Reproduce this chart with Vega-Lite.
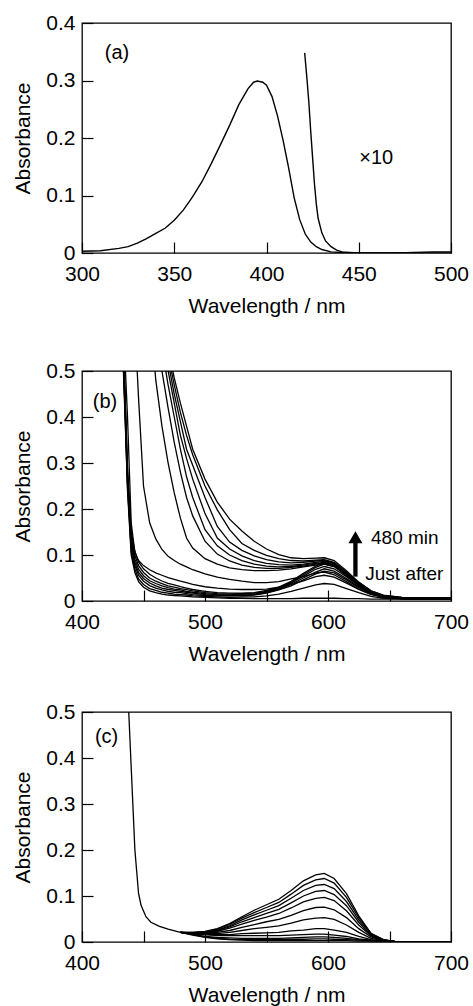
{
"$schema":"https://vega.github.io/schema/vega-lite/v6.json",
"background":"white",
"padding":{"left":12,"top":11,"right":2,"bottom":2},
"config":{
 "font":"Liberation Sans",
 "view":{"stroke":"black","strokeWidth":1.3},
 "axis":{"domain":false,"grid":false,"ticks":true,"tickSize":-11,"tickWidth":1.2,"tickColor":"black","labelFont":"Liberation Sans","labelFontSize":21,"labelColor":"black","labelPadding":18,"labelFlush":false,"labelOverlap":false,"titleFont":"Liberation Sans","titleFontSize":21,"titleFontWeight":"normal","titleColor":"black"},
 "axisY":{"titlePadding":12},
 "axisX":{"labelPadding":21.5,"titlePadding":10.6}
},
"datasets":{
"a":[
{"s":"m","w":300,"A":0.003},{"s":"m","w":310,"A":0.004},{"s":"m","w":320,"A":0.008},{"s":"m","w":325,"A":0.011},{"s":"m","w":330,"A":0.017},{"s":"m","w":335,"A":0.025},{"s":"m","w":340,"A":0.034},{"s":"m","w":345,"A":0.043},{"s":"m","w":350,"A":0.057},{"s":"m","w":355,"A":0.075},{"s":"m","w":360,"A":0.098},{"s":"m","w":365,"A":0.124},{"s":"m","w":370,"A":0.155},{"s":"m","w":375,"A":0.188},{"s":"m","w":380,"A":0.222},{"s":"m","w":385,"A":0.258},{"s":"m","w":390,"A":0.286},{"s":"m","w":393,"A":0.297},{"s":"m","w":395,"A":0.299},{"s":"m","w":398,"A":0.297},{"s":"m","w":400,"A":0.292},{"s":"m","w":403,"A":0.272},{"s":"m","w":406,"A":0.238},{"s":"m","w":409,"A":0.196},{"s":"m","w":412,"A":0.148},{"s":"m","w":415,"A":0.096},{"s":"m","w":418,"A":0.058},{"s":"m","w":421,"A":0.033},{"s":"m","w":424,"A":0.019},{"s":"m","w":427,"A":0.011},{"s":"m","w":430,"A":0.006},{"s":"m","w":435,"A":0.002},{"s":"m","w":440,"A":0.001},{"s":"m","w":445,"A":0},{"s":"m","w":450,"A":0},{"s":"m","w":500,"A":0},
{"s":"x","w":420.7,"A":0.348},{"s":"x","w":422,"A":0.3},{"s":"x","w":423,"A":0.26},{"s":"x","w":424,"A":0.21},{"s":"x","w":425,"A":0.165},{"s":"x","w":426,"A":0.12},{"s":"x","w":427,"A":0.085},{"s":"x","w":428,"A":0.06},{"s":"x","w":430,"A":0.035},{"s":"x","w":432,"A":0.021},{"s":"x","w":435,"A":0.011},{"s":"x","w":438,"A":0.005},{"s":"x","w":441,"A":0.002},{"s":"x","w":445,"A":0.001},{"s":"x","w":450,"A":0},{"s":"x","w":470,"A":0},{"s":"x","w":480,"A":0.001},{"s":"x","w":490,"A":0.002},{"s":"x","w":500,"A":0.002}
],
"la":[{"w":319,"A":0.347,"t":"(a)"},{"w":459.5,"A":0.166,"t":"×10"}],
"b":[
{"s":"J","w":430,"A":0.7},{"s":"J","w":433,"A":0.55},{"s":"J","w":435,"A":0.4},{"s":"J","w":437,"A":0.24},{"s":"J","w":440,"A":0.1},{"s":"J","w":443,"A":0.062},{"s":"J","w":446,"A":0.042},{"s":"J","w":450,"A":0.03},{"s":"J","w":455,"A":0.022},{"s":"J","w":460,"A":0.018},{"s":"J","w":465,"A":0.015},{"s":"J","w":470,"A":0.013},{"s":"J","w":475,"A":0.012},{"s":"J","w":480,"A":0.011},{"s":"J","w":485,"A":0.01},{"s":"J","w":490,"A":0.009},{"s":"J","w":500,"A":0.008},{"s":"J","w":510,"A":0.007},{"s":"J","w":520,"A":0.006},{"s":"J","w":530,"A":0.006},{"s":"J","w":540,"A":0.005},{"s":"J","w":550,"A":0.005},{"s":"J","w":560,"A":0.005},{"s":"J","w":570,"A":0.005},{"s":"J","w":580,"A":0.006},{"s":"J","w":590,"A":0.006},{"s":"J","w":597,"A":0.006},{"s":"J","w":605,"A":0.006},{"s":"J","w":615,"A":0.005},{"s":"J","w":625,"A":0.005},{"s":"J","w":635,"A":0.004},{"s":"J","w":645,"A":0.004},{"s":"J","w":660,"A":0.004},{"s":"J","w":680,"A":0.004},{"s":"J","w":700,"A":0.004},
{"s":"C1","w":430,"A":0.709},{"s":"C1","w":433,"A":0.559},{"s":"C1","w":435,"A":0.408},{"s":"C1","w":437,"A":0.248},{"s":"C1","w":440,"A":0.107},{"s":"C1","w":443,"A":0.069},{"s":"C1","w":446,"A":0.048},{"s":"C1","w":450,"A":0.036},{"s":"C1","w":455,"A":0.027},{"s":"C1","w":460,"A":0.023},{"s":"C1","w":465,"A":0.019},{"s":"C1","w":470,"A":0.017},{"s":"C1","w":475,"A":0.015},{"s":"C1","w":480,"A":0.014},{"s":"C1","w":485,"A":0.013},{"s":"C1","w":490,"A":0.011},{"s":"C1","w":500,"A":0.01},{"s":"C1","w":510,"A":0.009},{"s":"C1","w":520,"A":0.008},{"s":"C1","w":530,"A":0.009},{"s":"C1","w":540,"A":0.009},{"s":"C1","w":550,"A":0.011},{"s":"C1","w":560,"A":0.015},{"s":"C1","w":570,"A":0.021},{"s":"C1","w":580,"A":0.028},{"s":"C1","w":590,"A":0.035},{"s":"C1","w":597,"A":0.038},{"s":"C1","w":605,"A":0.036},{"s":"C1","w":615,"A":0.027},{"s":"C1","w":625,"A":0.018},{"s":"C1","w":635,"A":0.01},{"s":"C1","w":645,"A":0.006},{"s":"C1","w":660,"A":0.0045},{"s":"C1","w":680,"A":0.004},{"s":"C1","w":700,"A":0.004},
{"s":"F1","w":430,"A":0.72},{"s":"F1","w":433,"A":0.569},{"s":"F1","w":435,"A":0.418},{"s":"F1","w":437,"A":0.257},{"s":"F1","w":440,"A":0.116},{"s":"F1","w":443,"A":0.077},{"s":"F1","w":446,"A":0.056},{"s":"F1","w":450,"A":0.043},{"s":"F1","w":455,"A":0.0335},{"s":"F1","w":460,"A":0.028},{"s":"F1","w":465,"A":0.024},{"s":"F1","w":470,"A":0.021},{"s":"F1","w":475,"A":0.019},{"s":"F1","w":480,"A":0.018},{"s":"F1","w":485,"A":0.016},{"s":"F1","w":490,"A":0.014},{"s":"F1","w":500,"A":0.012},{"s":"F1","w":510,"A":0.011},{"s":"F1","w":520,"A":0.011},{"s":"F1","w":530,"A":0.012},{"s":"F1","w":540,"A":0.013},{"s":"F1","w":550,"A":0.017},{"s":"F1","w":560,"A":0.024},{"s":"F1","w":570,"A":0.033},{"s":"F1","w":580,"A":0.046},{"s":"F1","w":590,"A":0.059},{"s":"F1","w":597,"A":0.065},{"s":"F1","w":605,"A":0.061},{"s":"F1","w":615,"A":0.046},{"s":"F1","w":625,"A":0.029},{"s":"F1","w":635,"A":0.016},{"s":"F1","w":645,"A":0.008},{"s":"F1","w":660,"A":0.005},{"s":"F1","w":680,"A":0.004},{"s":"F1","w":700,"A":0.004},
{"s":"F2","w":430,"A":0.729},{"s":"F2","w":433,"A":0.577},{"s":"F2","w":435,"A":0.426},{"s":"F2","w":437,"A":0.265},{"s":"F2","w":440,"A":0.123},{"s":"F2","w":443,"A":0.084},{"s":"F2","w":446,"A":0.062},{"s":"F2","w":450,"A":0.049},{"s":"F2","w":455,"A":0.039},{"s":"F2","w":460,"A":0.033},{"s":"F2","w":465,"A":0.028},{"s":"F2","w":470,"A":0.025},{"s":"F2","w":475,"A":0.023},{"s":"F2","w":480,"A":0.021},{"s":"F2","w":485,"A":0.019},{"s":"F2","w":490,"A":0.017},{"s":"F2","w":500,"A":0.014},{"s":"F2","w":510,"A":0.013},{"s":"F2","w":520,"A":0.012},{"s":"F2","w":530,"A":0.013},{"s":"F2","w":540,"A":0.014},{"s":"F2","w":550,"A":0.018},{"s":"F2","w":560,"A":0.025},{"s":"F2","w":570,"A":0.036},{"s":"F2","w":580,"A":0.05},{"s":"F2","w":590,"A":0.063},{"s":"F2","w":597,"A":0.07},{"s":"F2","w":605,"A":0.065},{"s":"F2","w":615,"A":0.049},{"s":"F2","w":625,"A":0.031},{"s":"F2","w":635,"A":0.016},{"s":"F2","w":645,"A":0.009},{"s":"F2","w":660,"A":0.005},{"s":"F2","w":680,"A":0.004},{"s":"F2","w":700,"A":0.004},
{"s":"F3","w":430,"A":0.738},{"s":"F3","w":433,"A":0.586},{"s":"F3","w":435,"A":0.434},{"s":"F3","w":437,"A":0.273},{"s":"F3","w":440,"A":0.131},{"s":"F3","w":443,"A":0.091},{"s":"F3","w":446,"A":0.069},{"s":"F3","w":450,"A":0.055},{"s":"F3","w":455,"A":0.044},{"s":"F3","w":460,"A":0.038},{"s":"F3","w":465,"A":0.033},{"s":"F3","w":470,"A":0.029},{"s":"F3","w":475,"A":0.026},{"s":"F3","w":480,"A":0.024},{"s":"F3","w":485,"A":0.021},{"s":"F3","w":490,"A":0.019},{"s":"F3","w":500,"A":0.016},{"s":"F3","w":510,"A":0.014},{"s":"F3","w":520,"A":0.013},{"s":"F3","w":530,"A":0.015},{"s":"F3","w":540,"A":0.015},{"s":"F3","w":550,"A":0.02},{"s":"F3","w":560,"A":0.027},{"s":"F3","w":570,"A":0.039},{"s":"F3","w":580,"A":0.054},{"s":"F3","w":590,"A":0.069},{"s":"F3","w":597,"A":0.075},{"s":"F3","w":605,"A":0.07},{"s":"F3","w":615,"A":0.053},{"s":"F3","w":625,"A":0.033},{"s":"F3","w":635,"A":0.017},{"s":"F3","w":645,"A":0.009},{"s":"F3","w":660,"A":0.005},{"s":"F3","w":680,"A":0.004},{"s":"F3","w":700,"A":0.004},
{"s":"F4","w":430,"A":0.749},{"s":"F4","w":433,"A":0.596},{"s":"F4","w":435,"A":0.444},{"s":"F4","w":437,"A":0.282},{"s":"F4","w":440,"A":0.139},{"s":"F4","w":443,"A":0.099},{"s":"F4","w":446,"A":0.077},{"s":"F4","w":450,"A":0.062},{"s":"F4","w":455,"A":0.05},{"s":"F4","w":460,"A":0.043},{"s":"F4","w":465,"A":0.038},{"s":"F4","w":470,"A":0.033},{"s":"F4","w":475,"A":0.03},{"s":"F4","w":480,"A":0.027},{"s":"F4","w":485,"A":0.0245},{"s":"F4","w":490,"A":0.022},{"s":"F4","w":500,"A":0.018},{"s":"F4","w":510,"A":0.016},{"s":"F4","w":520,"A":0.015},{"s":"F4","w":530,"A":0.016},{"s":"F4","w":540,"A":0.017},{"s":"F4","w":550,"A":0.021},{"s":"F4","w":560,"A":0.029},{"s":"F4","w":570,"A":0.041},{"s":"F4","w":580,"A":0.057},{"s":"F4","w":590,"A":0.073},{"s":"F4","w":597,"A":0.08},{"s":"F4","w":605,"A":0.075},{"s":"F4","w":615,"A":0.056},{"s":"F4","w":625,"A":0.035},{"s":"F4","w":635,"A":0.018},{"s":"F4","w":645,"A":0.009},{"s":"F4","w":660,"A":0.005},{"s":"F4","w":680,"A":0.004},{"s":"F4","w":700,"A":0.004},
{"s":"F5","w":430,"A":0.762},{"s":"F5","w":433,"A":0.608},{"s":"F5","w":435,"A":0.455},{"s":"F5","w":437,"A":0.293},{"s":"F5","w":440,"A":0.15},{"s":"F5","w":443,"A":0.108},{"s":"F5","w":446,"A":0.085},{"s":"F5","w":450,"A":0.07},{"s":"F5","w":455,"A":0.058},{"s":"F5","w":460,"A":0.05},{"s":"F5","w":465,"A":0.0435},{"s":"F5","w":470,"A":0.0385},{"s":"F5","w":475,"A":0.035},{"s":"F5","w":480,"A":0.031},{"s":"F5","w":485,"A":0.028},{"s":"F5","w":490,"A":0.025},{"s":"F5","w":500,"A":0.021},{"s":"F5","w":510,"A":0.018},{"s":"F5","w":520,"A":0.017},{"s":"F5","w":530,"A":0.017},{"s":"F5","w":540,"A":0.018},{"s":"F5","w":550,"A":0.023},{"s":"F5","w":560,"A":0.03},{"s":"F5","w":570,"A":0.043},{"s":"F5","w":580,"A":0.06},{"s":"F5","w":590,"A":0.076},{"s":"F5","w":597,"A":0.084},{"s":"F5","w":605,"A":0.078},{"s":"F5","w":615,"A":0.058},{"s":"F5","w":625,"A":0.036},{"s":"F5","w":635,"A":0.019},{"s":"F5","w":645,"A":0.0096},{"s":"F5","w":660,"A":0.0054},{"s":"F5","w":680,"A":0.004},{"s":"F5","w":700,"A":0.004},
{"s":"T1","w":430,"A":0.75},{"s":"T1","w":433,"A":0.62},{"s":"T1","w":435,"A":0.52},{"s":"T1","w":437,"A":0.4},{"s":"T1","w":440,"A":0.17},{"s":"T1","w":443,"A":0.105},{"s":"T1","w":446,"A":0.088},{"s":"T1","w":450,"A":0.077},{"s":"T1","w":455,"A":0.068},{"s":"T1","w":460,"A":0.061},{"s":"T1","w":465,"A":0.056},{"s":"T1","w":470,"A":0.051},{"s":"T1","w":475,"A":0.047},{"s":"T1","w":480,"A":0.043},{"s":"T1","w":485,"A":0.04},{"s":"T1","w":490,"A":0.036},{"s":"T1","w":500,"A":0.031},{"s":"T1","w":510,"A":0.028},{"s":"T1","w":520,"A":0.026},{"s":"T1","w":530,"A":0.025},{"s":"T1","w":540,"A":0.025},{"s":"T1","w":550,"A":0.026},{"s":"T1","w":560,"A":0.03},{"s":"T1","w":570,"A":0.036},{"s":"T1","w":580,"A":0.044},{"s":"T1","w":590,"A":0.053},{"s":"T1","w":597,"A":0.056},{"s":"T1","w":605,"A":0.052},{"s":"T1","w":615,"A":0.039},{"s":"T1","w":625,"A":0.025},{"s":"T1","w":635,"A":0.014},{"s":"T1","w":645,"A":0.009},{"s":"T1","w":660,"A":0.006},{"s":"T1","w":680,"A":0.005},{"s":"T1","w":700,"A":0.005},
{"s":"T2","w":440,"A":0.75},{"s":"T2","w":443,"A":0.6},{"s":"T2","w":446,"A":0.44},{"s":"T2","w":450,"A":0.25},{"s":"T2","w":455,"A":0.17},{"s":"T2","w":460,"A":0.135},{"s":"T2","w":465,"A":0.112},{"s":"T2","w":470,"A":0.097},{"s":"T2","w":475,"A":0.088},{"s":"T2","w":480,"A":0.08},{"s":"T2","w":485,"A":0.074},{"s":"T2","w":490,"A":0.068},{"s":"T2","w":500,"A":0.059},{"s":"T2","w":510,"A":0.052},{"s":"T2","w":520,"A":0.047},{"s":"T2","w":530,"A":0.043},{"s":"T2","w":540,"A":0.04},{"s":"T2","w":550,"A":0.04},{"s":"T2","w":560,"A":0.042},{"s":"T2","w":570,"A":0.048},{"s":"T2","w":580,"A":0.053},{"s":"T2","w":590,"A":0.061},{"s":"T2","w":597,"A":0.063},{"s":"T2","w":605,"A":0.057},{"s":"T2","w":615,"A":0.042},{"s":"T2","w":625,"A":0.026},{"s":"T2","w":635,"A":0.015},{"s":"T2","w":645,"A":0.0085},{"s":"T2","w":660,"A":0.006},{"s":"T2","w":680,"A":0.005},{"s":"T2","w":700,"A":0.005},
{"s":"T3","w":450,"A":0.85},{"s":"T3","w":455,"A":0.63},{"s":"T3","w":460,"A":0.48},{"s":"T3","w":465,"A":0.38},{"s":"T3","w":470,"A":0.3},{"s":"T3","w":475,"A":0.235},{"s":"T3","w":480,"A":0.18},{"s":"T3","w":485,"A":0.137},{"s":"T3","w":490,"A":0.115},{"s":"T3","w":500,"A":0.092},{"s":"T3","w":510,"A":0.08},{"s":"T3","w":520,"A":0.072},{"s":"T3","w":530,"A":0.068},{"s":"T3","w":540,"A":0.066},{"s":"T3","w":550,"A":0.066},{"s":"T3","w":560,"A":0.067},{"s":"T3","w":570,"A":0.07},{"s":"T3","w":580,"A":0.074},{"s":"T3","w":590,"A":0.078},{"s":"T3","w":597,"A":0.08},{"s":"T3","w":605,"A":0.075},{"s":"T3","w":615,"A":0.056},{"s":"T3","w":625,"A":0.035},{"s":"T3","w":635,"A":0.0185},{"s":"T3","w":645,"A":0.01},{"s":"T3","w":660,"A":0.006},{"s":"T3","w":680,"A":0.005},{"s":"T3","w":700,"A":0.005},
{"s":"T4","w":455,"A":0.8},{"s":"T4","w":460,"A":0.63},{"s":"T4","w":465,"A":0.5},{"s":"T4","w":470,"A":0.42},{"s":"T4","w":475,"A":0.345},{"s":"T4","w":480,"A":0.28},{"s":"T4","w":485,"A":0.225},{"s":"T4","w":490,"A":0.185},{"s":"T4","w":500,"A":0.13},{"s":"T4","w":510,"A":0.102},{"s":"T4","w":520,"A":0.087},{"s":"T4","w":530,"A":0.078},{"s":"T4","w":540,"A":0.073},{"s":"T4","w":550,"A":0.071},{"s":"T4","w":560,"A":0.071},{"s":"T4","w":570,"A":0.073},{"s":"T4","w":580,"A":0.076},{"s":"T4","w":590,"A":0.08},{"s":"T4","w":597,"A":0.082},{"s":"T4","w":605,"A":0.077},{"s":"T4","w":615,"A":0.057},{"s":"T4","w":625,"A":0.036},{"s":"T4","w":635,"A":0.019},{"s":"T4","w":645,"A":0.01},{"s":"T4","w":660,"A":0.006},{"s":"T4","w":680,"A":0.005},{"s":"T4","w":700,"A":0.005},
{"s":"T5","w":455,"A":0.8},{"s":"T5","w":460,"A":0.665},{"s":"T5","w":465,"A":0.55},{"s":"T5","w":470,"A":0.47},{"s":"T5","w":475,"A":0.4},{"s":"T5","w":480,"A":0.33},{"s":"T5","w":485,"A":0.27},{"s":"T5","w":490,"A":0.225},{"s":"T5","w":500,"A":0.155},{"s":"T5","w":510,"A":0.12},{"s":"T5","w":520,"A":0.1},{"s":"T5","w":530,"A":0.088},{"s":"T5","w":540,"A":0.08},{"s":"T5","w":550,"A":0.076},{"s":"T5","w":560,"A":0.074},{"s":"T5","w":570,"A":0.075},{"s":"T5","w":580,"A":0.078},{"s":"T5","w":590,"A":0.082},{"s":"T5","w":597,"A":0.084},{"s":"T5","w":605,"A":0.078},{"s":"T5","w":615,"A":0.059},{"s":"T5","w":625,"A":0.037},{"s":"T5","w":635,"A":0.019},{"s":"T5","w":645,"A":0.01},{"s":"T5","w":660,"A":0.006},{"s":"T5","w":680,"A":0.005},{"s":"T5","w":700,"A":0.005},
{"s":"T6","w":455,"A":0.82},{"s":"T6","w":460,"A":0.7},{"s":"T6","w":465,"A":0.59},{"s":"T6","w":470,"A":0.5},{"s":"T6","w":475,"A":0.43},{"s":"T6","w":480,"A":0.36},{"s":"T6","w":485,"A":0.31},{"s":"T6","w":490,"A":0.265},{"s":"T6","w":500,"A":0.19},{"s":"T6","w":510,"A":0.137},{"s":"T6","w":520,"A":0.113},{"s":"T6","w":530,"A":0.098},{"s":"T6","w":540,"A":0.088},{"s":"T6","w":550,"A":0.082},{"s":"T6","w":560,"A":0.079},{"s":"T6","w":570,"A":0.078},{"s":"T6","w":580,"A":0.08},{"s":"T6","w":590,"A":0.084},{"s":"T6","w":597,"A":0.086},{"s":"T6","w":605,"A":0.08},{"s":"T6","w":615,"A":0.06},{"s":"T6","w":625,"A":0.038},{"s":"T6","w":635,"A":0.02},{"s":"T6","w":645,"A":0.011},{"s":"T6","w":660,"A":0.007},{"s":"T6","w":680,"A":0.006},{"s":"T6","w":700,"A":0.006},
{"s":"T7","w":455,"A":0.8},{"s":"T7","w":460,"A":0.7},{"s":"T7","w":465,"A":0.6},{"s":"T7","w":470,"A":0.52},{"s":"T7","w":475,"A":0.45},{"s":"T7","w":480,"A":0.39},{"s":"T7","w":485,"A":0.33},{"s":"T7","w":490,"A":0.295},{"s":"T7","w":500,"A":0.225},{"s":"T7","w":510,"A":0.162},{"s":"T7","w":520,"A":0.128},{"s":"T7","w":530,"A":0.11},{"s":"T7","w":540,"A":0.098},{"s":"T7","w":550,"A":0.09},{"s":"T7","w":560,"A":0.085},{"s":"T7","w":570,"A":0.083},{"s":"T7","w":580,"A":0.084},{"s":"T7","w":590,"A":0.087},{"s":"T7","w":597,"A":0.088},{"s":"T7","w":605,"A":0.082},{"s":"T7","w":615,"A":0.062},{"s":"T7","w":625,"A":0.039},{"s":"T7","w":635,"A":0.021},{"s":"T7","w":645,"A":0.011},{"s":"T7","w":660,"A":0.007},{"s":"T7","w":680,"A":0.006},{"s":"T7","w":700,"A":0.006},
{"s":"T8","w":455,"A":0.8},{"s":"T8","w":460,"A":0.71},{"s":"T8","w":465,"A":0.62},{"s":"T8","w":470,"A":0.535},{"s":"T8","w":475,"A":0.47},{"s":"T8","w":480,"A":0.41},{"s":"T8","w":485,"A":0.36},{"s":"T8","w":490,"A":0.318},{"s":"T8","w":500,"A":0.25},{"s":"T8","w":510,"A":0.198},{"s":"T8","w":520,"A":0.155},{"s":"T8","w":530,"A":0.125},{"s":"T8","w":540,"A":0.11},{"s":"T8","w":550,"A":0.099},{"s":"T8","w":560,"A":0.092},{"s":"T8","w":570,"A":0.088},{"s":"T8","w":580,"A":0.087},{"s":"T8","w":590,"A":0.089},{"s":"T8","w":597,"A":0.09},{"s":"T8","w":605,"A":0.084},{"s":"T8","w":615,"A":0.063},{"s":"T8","w":625,"A":0.04},{"s":"T8","w":635,"A":0.022},{"s":"T8","w":645,"A":0.012},{"s":"T8","w":660,"A":0.008},{"s":"T8","w":680,"A":0.007},{"s":"T8","w":700,"A":0.007},
{"s":"T9","w":455,"A":0.82},{"s":"T9","w":460,"A":0.72},{"s":"T9","w":465,"A":0.63},{"s":"T9","w":470,"A":0.55},{"s":"T9","w":475,"A":0.485},{"s":"T9","w":480,"A":0.43},{"s":"T9","w":485,"A":0.38},{"s":"T9","w":490,"A":0.33},{"s":"T9","w":500,"A":0.265},{"s":"T9","w":510,"A":0.215},{"s":"T9","w":520,"A":0.178},{"s":"T9","w":530,"A":0.152},{"s":"T9","w":540,"A":0.13},{"s":"T9","w":550,"A":0.113},{"s":"T9","w":560,"A":0.101},{"s":"T9","w":570,"A":0.094},{"s":"T9","w":580,"A":0.092},{"s":"T9","w":590,"A":0.093},{"s":"T9","w":597,"A":0.094},{"s":"T9","w":605,"A":0.088},{"s":"T9","w":615,"A":0.066},{"s":"T9","w":625,"A":0.041},{"s":"T9","w":635,"A":0.022},{"s":"T9","w":645,"A":0.013},{"s":"T9","w":660,"A":0.008},{"s":"T9","w":680,"A":0.007},{"s":"T9","w":700,"A":0.007}
],
"lbc":[{"w":418.7,"A":0.433,"t":"(b)"}],
"lbl":[{"w":635,"A":0.1376,"t":"480 min"},{"w":630.3,"A":0.058,"t":"Just after"}],
"arr":[{"w":622.3,"A":0.053,"A2":0.13}],
"head":[{"w":622.3,"A":0.1385}],
"c":[
{"s":"e","w":430,"A":0.9},{"s":"e","w":436,"A":0.62},{"s":"e","w":438,"A":0.5},{"s":"e","w":440,"A":0.38},{"s":"e","w":441,"A":0.32},{"s":"e","w":443,"A":0.2},{"s":"e","w":446,"A":0.105},{"s":"e","w":448,"A":0.08},{"s":"e","w":452,"A":0.055},{"s":"e","w":456,"A":0.043},{"s":"e","w":463,"A":0.034},{"s":"e","w":470,"A":0.028},{"s":"e","w":480,"A":0.021},
{"s":"c1","w":480,"A":0.021},{"s":"c1","w":490,"A":0.021},{"s":"c1","w":500,"A":0.023},{"s":"c1","w":510,"A":0.029},{"s":"c1","w":520,"A":0.04},{"s":"c1","w":530,"A":0.055},{"s":"c1","w":540,"A":0.069},{"s":"c1","w":550,"A":0.081},{"s":"c1","w":560,"A":0.093},{"s":"c1","w":570,"A":0.112},{"s":"c1","w":580,"A":0.133},{"s":"c1","w":590,"A":0.146},{"s":"c1","w":597,"A":0.149},{"s":"c1","w":605,"A":0.138},{"s":"c1","w":615,"A":0.105},{"s":"c1","w":625,"A":0.057},{"s":"c1","w":635,"A":0.019},{"s":"c1","w":645,"A":0.005},{"s":"c1","w":655,"A":0.001},{"s":"c1","w":670,"A":0.001},{"s":"c1","w":700,"A":0.001},
{"s":"c2","w":480,"A":0.021},{"s":"c2","w":490,"A":0.021},{"s":"c2","w":500,"A":0.022},{"s":"c2","w":510,"A":0.028},{"s":"c2","w":520,"A":0.038},{"s":"c2","w":530,"A":0.052},{"s":"c2","w":540,"A":0.064},{"s":"c2","w":550,"A":0.075},{"s":"c2","w":560,"A":0.086},{"s":"c2","w":570,"A":0.104},{"s":"c2","w":580,"A":0.123},{"s":"c2","w":590,"A":0.135},{"s":"c2","w":597,"A":0.138},{"s":"c2","w":605,"A":0.128},{"s":"c2","w":615,"A":0.097},{"s":"c2","w":625,"A":0.053},{"s":"c2","w":635,"A":0.018},{"s":"c2","w":645,"A":0.005},{"s":"c2","w":655,"A":0.001},{"s":"c2","w":670,"A":0.001},{"s":"c2","w":700,"A":0.001},
{"s":"c3","w":480,"A":0.021},{"s":"c3","w":490,"A":0.02},{"s":"c3","w":500,"A":0.022},{"s":"c3","w":510,"A":0.026},{"s":"c3","w":520,"A":0.035},{"s":"c3","w":530,"A":0.048},{"s":"c3","w":540,"A":0.059},{"s":"c3","w":550,"A":0.069},{"s":"c3","w":560,"A":0.079},{"s":"c3","w":570,"A":0.095},{"s":"c3","w":580,"A":0.112},{"s":"c3","w":590,"A":0.123},{"s":"c3","w":597,"A":0.125},{"s":"c3","w":605,"A":0.116},{"s":"c3","w":615,"A":0.088},{"s":"c3","w":625,"A":0.048},{"s":"c3","w":635,"A":0.017},{"s":"c3","w":645,"A":0.004},{"s":"c3","w":655,"A":0.001},{"s":"c3","w":670,"A":0.001},{"s":"c3","w":700,"A":0.001},
{"s":"c4","w":480,"A":0.021},{"s":"c4","w":490,"A":0.02},{"s":"c4","w":500,"A":0.021},{"s":"c4","w":510,"A":0.025},{"s":"c4","w":520,"A":0.033},{"s":"c4","w":530,"A":0.044},{"s":"c4","w":540,"A":0.053},{"s":"c4","w":550,"A":0.062},{"s":"c4","w":560,"A":0.071},{"s":"c4","w":570,"A":0.085},{"s":"c4","w":580,"A":0.1},{"s":"c4","w":590,"A":0.11},{"s":"c4","w":597,"A":0.112},{"s":"c4","w":605,"A":0.103},{"s":"c4","w":615,"A":0.079},{"s":"c4","w":625,"A":0.043},{"s":"c4","w":635,"A":0.015},{"s":"c4","w":645,"A":0.004},{"s":"c4","w":655,"A":0.001},{"s":"c4","w":670,"A":0.001},{"s":"c4","w":700,"A":0.001},
{"s":"c5","w":480,"A":0.021},{"s":"c5","w":490,"A":0.02},{"s":"c5","w":500,"A":0.02},{"s":"c5","w":510,"A":0.023},{"s":"c5","w":520,"A":0.03},{"s":"c5","w":530,"A":0.039},{"s":"c5","w":540,"A":0.047},{"s":"c5","w":550,"A":0.054},{"s":"c5","w":560,"A":0.062},{"s":"c5","w":570,"A":0.074},{"s":"c5","w":580,"A":0.087},{"s":"c5","w":590,"A":0.095},{"s":"c5","w":597,"A":0.097},{"s":"c5","w":605,"A":0.09},{"s":"c5","w":615,"A":0.068},{"s":"c5","w":625,"A":0.037},{"s":"c5","w":635,"A":0.013},{"s":"c5","w":645,"A":0.004},{"s":"c5","w":655,"A":0.001},{"s":"c5","w":670,"A":0.001},{"s":"c5","w":700,"A":0.001},
{"s":"c6","w":480,"A":0.021},{"s":"c6","w":490,"A":0.019},{"s":"c6","w":500,"A":0.019},{"s":"c6","w":510,"A":0.021},{"s":"c6","w":520,"A":0.025},{"s":"c6","w":530,"A":0.032},{"s":"c6","w":540,"A":0.038},{"s":"c6","w":550,"A":0.044},{"s":"c6","w":560,"A":0.049},{"s":"c6","w":570,"A":0.058},{"s":"c6","w":580,"A":0.068},{"s":"c6","w":590,"A":0.075},{"s":"c6","w":597,"A":0.076},{"s":"c6","w":605,"A":0.07},{"s":"c6","w":615,"A":0.053},{"s":"c6","w":625,"A":0.029},{"s":"c6","w":635,"A":0.011},{"s":"c6","w":645,"A":0.003},{"s":"c6","w":655,"A":0.001},{"s":"c6","w":670,"A":0.001},{"s":"c6","w":700,"A":0.001},
{"s":"c7","w":480,"A":0.021},{"s":"c7","w":490,"A":0.019},{"s":"c7","w":500,"A":0.018},{"s":"c7","w":510,"A":0.018},{"s":"c7","w":520,"A":0.021},{"s":"c7","w":530,"A":0.025},{"s":"c7","w":540,"A":0.029},{"s":"c7","w":550,"A":0.032},{"s":"c7","w":560,"A":0.035},{"s":"c7","w":570,"A":0.041},{"s":"c7","w":580,"A":0.048},{"s":"c7","w":590,"A":0.052},{"s":"c7","w":597,"A":0.053},{"s":"c7","w":605,"A":0.049},{"s":"c7","w":615,"A":0.037},{"s":"c7","w":625,"A":0.021},{"s":"c7","w":635,"A":0.008},{"s":"c7","w":645,"A":0.003},{"s":"c7","w":655,"A":0.001},{"s":"c7","w":670,"A":0.001},{"s":"c7","w":700,"A":0.001},
{"s":"c8","w":480,"A":0.021},{"s":"c8","w":490,"A":0.0185},{"s":"c8","w":500,"A":0.016},{"s":"c8","w":510,"A":0.016},{"s":"c8","w":520,"A":0.016},{"s":"c8","w":530,"A":0.018},{"s":"c8","w":540,"A":0.019},{"s":"c8","w":550,"A":0.02},{"s":"c8","w":560,"A":0.021},{"s":"c8","w":570,"A":0.024},{"s":"c8","w":580,"A":0.026},{"s":"c8","w":590,"A":0.029},{"s":"c8","w":597,"A":0.029},{"s":"c8","w":605,"A":0.026},{"s":"c8","w":615,"A":0.021},{"s":"c8","w":625,"A":0.012},{"s":"c8","w":635,"A":0.005},{"s":"c8","w":645,"A":0.002},{"s":"c8","w":655,"A":0.001},{"s":"c8","w":670,"A":0.001},{"s":"c8","w":700,"A":0.001},
{"s":"c9","w":480,"A":0.021},{"s":"c9","w":490,"A":0.018},{"s":"c9","w":500,"A":0.016},{"s":"c9","w":510,"A":0.014},{"s":"c9","w":520,"A":0.014},{"s":"c9","w":530,"A":0.014},{"s":"c9","w":540,"A":0.014},{"s":"c9","w":550,"A":0.014},{"s":"c9","w":560,"A":0.014},{"s":"c9","w":570,"A":0.015},{"s":"c9","w":580,"A":0.016},{"s":"c9","w":590,"A":0.017},{"s":"c9","w":597,"A":0.017},{"s":"c9","w":605,"A":0.015},{"s":"c9","w":615,"A":0.012},{"s":"c9","w":625,"A":0.007},{"s":"c9","w":635,"A":0.004},{"s":"c9","w":645,"A":0.002},{"s":"c9","w":655,"A":0.001},{"s":"c9","w":670,"A":0.001},{"s":"c9","w":700,"A":0.001},
{"s":"c10","w":480,"A":0.021},{"s":"c10","w":490,"A":0.017},{"s":"c10","w":500,"A":0.012},{"s":"c10","w":510,"A":0.01},{"s":"c10","w":520,"A":0.009},{"s":"c10","w":530,"A":0.008},{"s":"c10","w":540,"A":0.008},{"s":"c10","w":550,"A":0.008},{"s":"c10","w":560,"A":0.008},{"s":"c10","w":570,"A":0.009},{"s":"c10","w":580,"A":0.01},{"s":"c10","w":590,"A":0.011},{"s":"c10","w":597,"A":0.011},{"s":"c10","w":605,"A":0.01},{"s":"c10","w":615,"A":0.008},{"s":"c10","w":625,"A":0.005},{"s":"c10","w":635,"A":0.003},{"s":"c10","w":645,"A":0.002},{"s":"c10","w":655,"A":0.001},{"s":"c10","w":670,"A":0.001},{"s":"c10","w":700,"A":0.001},
{"s":"c11","w":480,"A":0.021},{"s":"c11","w":490,"A":0.016},{"s":"c11","w":500,"A":0.011},{"s":"c11","w":510,"A":0.008},{"s":"c11","w":520,"A":0.006},{"s":"c11","w":530,"A":0.005},{"s":"c11","w":540,"A":0.005},{"s":"c11","w":550,"A":0.005},{"s":"c11","w":560,"A":0.005},{"s":"c11","w":570,"A":0.006},{"s":"c11","w":580,"A":0.006},{"s":"c11","w":590,"A":0.007},{"s":"c11","w":597,"A":0.007},{"s":"c11","w":605,"A":0.006},{"s":"c11","w":615,"A":0.005},{"s":"c11","w":625,"A":0.004},{"s":"c11","w":635,"A":0.003},{"s":"c11","w":645,"A":0.002},{"s":"c11","w":655,"A":0.001},{"s":"c11","w":670,"A":0.001},{"s":"c11","w":700,"A":0.001},
{"s":"c12","w":480,"A":0.021},{"s":"c12","w":490,"A":0.015},{"s":"c12","w":500,"A":0.01},{"s":"c12","w":510,"A":0.007},{"s":"c12","w":520,"A":0.005},{"s":"c12","w":530,"A":0.004},{"s":"c12","w":540,"A":0.003},{"s":"c12","w":550,"A":0.003},{"s":"c12","w":560,"A":0.003},{"s":"c12","w":570,"A":0.003},{"s":"c12","w":580,"A":0.003},{"s":"c12","w":590,"A":0.003},{"s":"c12","w":597,"A":0.003},{"s":"c12","w":605,"A":0.003},{"s":"c12","w":615,"A":0.003},{"s":"c12","w":625,"A":0.002},{"s":"c12","w":635,"A":0.002},{"s":"c12","w":645,"A":0.002},{"s":"c12","w":655,"A":0.001},{"s":"c12","w":670,"A":0.001},{"s":"c12","w":700,"A":0.001}
],
"lc":[{"w":420,"A":0.446,"t":"(c)"}]
},
"spacing":42,
"vconcat":[
{
 "width":369,"height":230,
 "layer":[
  {"data":{"name":"a"},"mark":{"type":"line","color":"black","strokeWidth":1.4,"clip":true},
   "encoding":{
    "x":{"field":"w","type":"quantitative","title":"Wavelength / nm","scale":{"domain":[300,500],"nice":false,"zero":false},"axis":{"values":[300,350,400,450,500]}},
    "y":{"field":"A","type":"quantitative","title":"Absorbance","scale":{"domain":[0,0.4],"nice":false},"axis":{"values":[0,0.1,0.2,0.3,0.4],"labelExpr":"datum.value == 0 ? '0' : format(datum.value, '.1f')"}},
    "detail":{"field":"s"}}},
  {"data":{"name":"la"},"mark":{"type":"text","fontSize":20,"align":"center","baseline":"middle","color":"black"},
   "encoding":{"x":{"field":"w","type":"quantitative","title":"Wavelength / nm"},"y":{"field":"A","type":"quantitative","title":"Absorbance"},"text":{"field":"t"}}}
 ]
},
{
 "spacing":35,
 "vconcat":[
 {
  "width":369,"height":230,
  "layer":[
   {"data":{"name":"b"},"mark":{"type":"line","color":"black","strokeWidth":1.3,"clip":true},
    "encoding":{
     "x":{"field":"w","type":"quantitative","title":"Wavelength / nm","scale":{"domain":[400,700],"nice":false,"zero":false},"axis":{"values":[400,450,500,550,600,650,700],"labelExpr":"datum.value % 100 == 0 ? datum.label : ''"}},
     "y":{"field":"A","type":"quantitative","title":"Absorbance","scale":{"domain":[0,0.5],"nice":false},"axis":{"values":[0,0.1,0.2,0.3,0.4,0.5],"labelExpr":"datum.value == 0 ? '0' : format(datum.value, '.1f')"}},
     "detail":{"field":"s"}}},
   {"data":{"name":"arr"},"mark":{"type":"rule","color":"black","strokeWidth":4.3},
    "encoding":{"x":{"field":"w","type":"quantitative","title":"Wavelength / nm"},"y":{"field":"A","type":"quantitative","title":"Absorbance"},"y2":{"field":"A2"}}},
   {"data":{"name":"head"},"mark":{"type":"point","shape":"triangle-up","filled":true,"color":"black","size":196,"opacity":1},
    "encoding":{"x":{"field":"w","type":"quantitative","title":"Wavelength / nm"},"y":{"field":"A","type":"quantitative","title":"Absorbance"}}},
   {"data":{"name":"lbc"},"mark":{"type":"text","fontSize":20,"align":"center","baseline":"middle","color":"black"},
    "encoding":{"x":{"field":"w","type":"quantitative","title":"Wavelength / nm"},"y":{"field":"A","type":"quantitative","title":"Absorbance"},"text":{"field":"t"}}},
   {"data":{"name":"lbl"},"mark":{"type":"text","fontSize":19,"align":"left","baseline":"middle","color":"black"},
    "encoding":{"x":{"field":"w","type":"quantitative","title":"Wavelength / nm"},"y":{"field":"A","type":"quantitative","title":"Absorbance"},"text":{"field":"t"}}}
  ]
 },
 {
  "width":369,"height":230,
  "layer":[
   {"data":{"name":"c"},"mark":{"type":"line","color":"black","strokeWidth":1.3,"clip":true},
    "encoding":{
     "x":{"field":"w","type":"quantitative","title":"Wavelength / nm","scale":{"domain":[400,700],"nice":false,"zero":false},"axis":{"values":[400,450,500,550,600,650,700],"labelExpr":"datum.value % 100 == 0 ? datum.label : ''"}},
     "y":{"field":"A","type":"quantitative","title":"Absorbance","scale":{"domain":[0,0.5],"nice":false},"axis":{"values":[0,0.1,0.2,0.3,0.4,0.5],"labelExpr":"datum.value == 0 ? '0' : format(datum.value, '.1f')"}},
     "detail":{"field":"s"}}},
   {"data":{"name":"lc"},"mark":{"type":"text","fontSize":20,"align":"center","baseline":"middle","color":"black"},
    "encoding":{"x":{"field":"w","type":"quantitative","title":"Wavelength / nm"},"y":{"field":"A","type":"quantitative","title":"Absorbance"},"text":{"field":"t"}}}
  ]
 }
 ]
}
]
}
